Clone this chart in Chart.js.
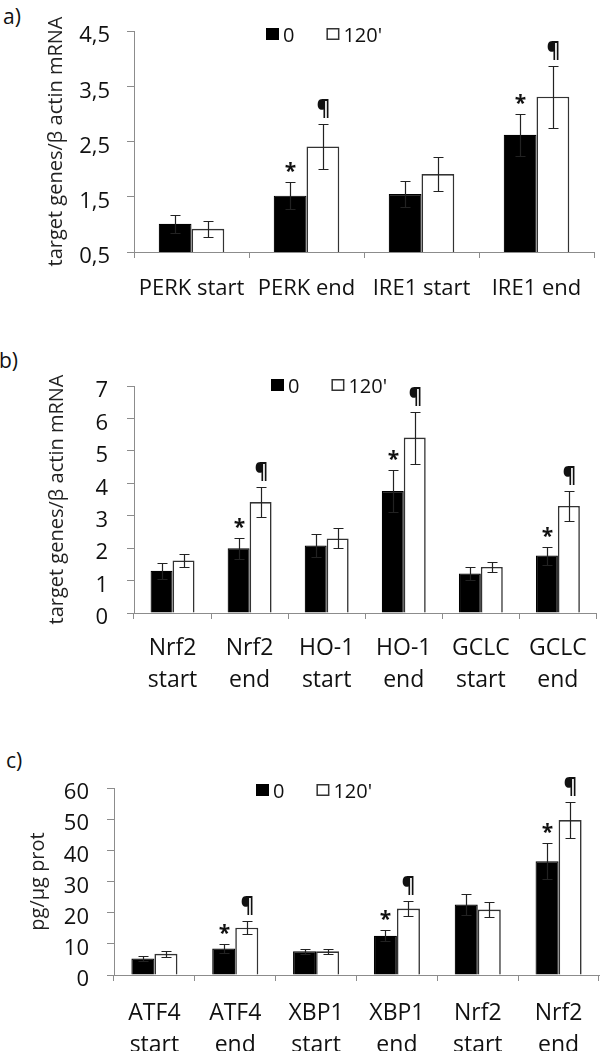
<!DOCTYPE html>
<html>
<head>
<title>UPR / Nrf2 markers</title>
<script src="https://cdn.jsdelivr.net/npm/chart.js"></script>
<style>
  body { margin: 0; background: #fff; }
  .panel { position: absolute; left: 0; }
  .tag { position: absolute; font: 21px "Open Sans"; line-height: 24px; color: #111; }
</style>
</head>
<body>
<div class="tag" style="left:3px;top:4px">a)</div>
<div class="tag" style="left:-1px;top:348px">b)</div>
<div class="tag" style="left:6px;top:748px">c)</div>
<div class="panel" style="top:0"><canvas id="chartA" width="600" height="340"></canvas></div>
<div class="panel" style="top:340px"><canvas id="chartB" width="600" height="360"></canvas></div>
<div class="panel" style="top:700px"><canvas id="chartC" width="600" height="351"></canvas></div>

<script>
// series names
var seriesNames = ['0', "120'"];

// panel a
var catsA = ['PERK start', 'PERK end', 'IRE1 start', 'IRE1 end'];
var a0 = [1.01, 1.52, 1.55, 2.62];
var a0err = [0.16, 0.25, 0.23, 0.38];
var a120 = [0.92, 2.41, 1.91, 3.31];
var a120err = [0.14, 0.41, 0.31, 0.56];
var a0marks = ['', '*', '', '*'];
var a120marks = ['', '\u00B6', '', '\u00B6'];
var ticksA = [0.5, 1.5, 2.5, 3.5, 4.5];
var tickLabelsA = ['0,5', '1,5', '2,5', '3,5', '4,5'];

// panel b
var catsB = [['Nrf2', 'start'], ['Nrf2', 'end'], ['HO-1', 'start'], ['HO-1', 'end'], ['GCLC', 'start'], ['GCLC', 'end']];
var b0 = [1.3, 2.0, 2.08, 3.76, 1.22, 1.77];
var b0err = [0.25, 0.32, 0.36, 0.65, 0.19, 0.28];
var b120 = [1.62, 3.42, 2.3, 5.41, 1.42, 3.3];
var b120err = [0.21, 0.47, 0.31, 0.8, 0.16, 0.46];
var b0marks = ['', '*', '', '*', '', '*'];
var b120marks = ['', '\u00B6', '', '\u00B6', '', '\u00B6'];
var ticksB = [0, 1, 2, 3, 4, 5, 6, 7];
var tickLabelsB = ['0', '1', '2', '3', '4', '5', '6', '7'];

// panel c
var catsC = [['ATF4', 'start'], ['ATF4', 'end'], ['XBP1', 'start'], ['XBP1', 'end'], ['Nrf2', 'start'], ['Nrf2', 'end']];
var c0 = [5.3, 8.5, 7.6, 12.6, 22.6, 36.5];
var c0err = [0.7, 1.3, 0.9, 1.8, 3.3, 5.7];
var c120 = [6.8, 15.2, 7.6, 21.3, 21.0, 49.7];
var c120err = [0.9, 2.1, 0.9, 2.5, 2.4, 5.9];
var c0marks = ['', '*', '', '*', '', '*'];
var c120marks = ['', '\u00B6', '', '\u00B6', '', '\u00B6'];
var ticksC = [0, 10, 20, 30, 40, 50, 60];
var tickLabelsC = ['0', '10', '20', '30', '40', '50', '60'];

var AXIS = '#8c8c8c';
var TEXT = '#111';

// error bars + significance marks, placed from the bar elements and y scale
var errorBars = {
  id: 'errorBars',
  afterDatasetsDraw: function (chart) {
    var ctx = chart.ctx, y = chart.scales.y;
    ctx.save();
    chart.data.datasets.forEach(function (ds, i) {
      var meta = chart.getDatasetMeta(i);
      meta.data.forEach(function (bar, j) {
        var v = ds.data[j], e = ds.errors[j];
        var top = Math.round(y.getPixelForValue(v + e)) + 0.5;
        var bot = Math.round(y.getPixelForValue(v - e)) + 0.5;
        var x = Math.round(bar.x) + 0.5;
        ctx.strokeStyle = '#222';
        ctx.lineWidth = 1.2;
        ctx.beginPath();
        ctx.moveTo(x, top); ctx.lineTo(x, bot);
        ctx.moveTo(x - 5, top); ctx.lineTo(x + 5, top);
        ctx.moveTo(x - 5, bot); ctx.lineTo(x + 5, bot);
        ctx.stroke();
        var m = ds.marks[j];
        if (m) {
          ctx.fillStyle = TEXT;
          ctx.textAlign = 'center';
          ctx.textBaseline = 'alphabetic';
          ctx.font = 'bold 21px "Open Sans"';
          ctx.fillText(m, x, m === '*' ? top - 5 : top - 10);
        }
      });
    });
    ctx.restore();
  }
};

// small box legend inside the plot
var boxLegend = {
  id: 'boxLegend',
  afterDraw: function (chart, args, opts) {
    var ctx = chart.ctx, x = opts.x, y = opts.y;
    ctx.save();
    ctx.font = '20px "Open Sans"';
    ctx.textBaseline = 'middle';
    ctx.textAlign = 'left';
    chart.data.datasets.forEach(function (ds) {
      ctx.fillStyle = ds.backgroundColor;
      ctx.fillRect(x, y, 13, 12);
      ctx.strokeStyle = ds.borderColor;
      ctx.lineWidth = 1.5;
      ctx.strokeRect(x + 0.75, y + 0.75, 11.5, 10.5);
      ctx.fillStyle = TEXT;
      ctx.fillText(ds.label, x + 17, y + 8);
      x += 17 + ctx.measureText(ds.label).width + 32;
    });
    ctx.restore();
  }
};

function makeChart(id, cats, s0, e0, m0, s120, e120, m120, ticks, tickLabels, yTitle, lay) {
  return new Chart(document.getElementById(id), {
    type: 'bar',
    data: {
      labels: cats,
      datasets: [
        { label: seriesNames[0], data: s0, errors: e0, marks: m0,
          backgroundColor: '#000', borderColor: '#000', borderWidth: 1.2 },
        { label: seriesNames[1], data: s120, errors: e120, marks: m120,
          backgroundColor: '#fff', borderColor: '#333', borderWidth: 1.6 }
      ]
    },
    options: {
      responsive: false,
      animation: false,
      layout: { padding: { top: lay.top, right: lay.right, left: 0, bottom: 0 } },
      datasets: { bar: { categoryPercentage: 0.57, barPercentage: 1.0 } },
      plugins: {
        legend: { display: false },
        tooltip: { enabled: false },
        boxLegend: { x: lay.legX, y: lay.legY }
      },
      scales: {
        x: {
          grid: { display: true, drawOnChartArea: false, color: AXIS, tickLength: 6, offset: true },
          border: { display: true, color: AXIS, width: 1 },
          ticks: { color: TEXT, padding: lay.xPad, maxRotation: 0, autoSkip: false,
                   font: { family: 'Open Sans', size: lay.xFont, lineHeight: 1.4 } },
          afterFit: function (s) { s.height = lay.xHeight; }
        },
        y: {
          min: ticks[0],
          max: ticks[ticks.length - 1],
          grid: { display: true, drawOnChartArea: false, color: AXIS, tickLength: 7 },
          border: { display: true, color: AXIS, width: 1 },
          afterBuildTicks: function (s) { s.ticks = ticks.map(function (v) { return { value: v }; }); },
          ticks: {
            color: TEXT, padding: lay.yPad, labelOffset: 5,
            font: { family: 'Open Sans', size: lay.yFont },
            callback: function (v, i) { return tickLabels[i]; }
          },
          title: { display: true, text: yTitle, color: '#222',
                   font: { family: 'Open Sans', size: 20 }, padding: { top: lay.titlePad, bottom: 0 } },
          afterFit: function (s) { s.width = lay.axisX; }
        }
      }
    },
    plugins: [errorBars, boxLegend]
  });
}

makeChart('chartA', catsA, a0, a0err, a0marks, a120, a120err, a120marks, ticksA, tickLabelsA,
  'target genes/\u03B2 actin mRNA',
  { top: 31, right: 6, xHeight: 88, axisX: 134, xPad: 15, yPad: 17, xFont: 22, yFont: 22,
    titlePad: 44, legX: 266, legY: 28 });

makeChart('chartB', catsB, b0, b0err, b0marks, b120, b120err, b120marks, ticksB, tickLabelsB,
  'target genes/\u03B2 actin mRNA',
  { top: 46, right: 3, xHeight: 87, axisX: 134, xPad: 13, yPad: 19, xFont: 23, yFont: 22,
    titlePad: 45, legX: 271, legY: 39 });

makeChart('chartC', catsC, c0, c0err, c0marks, c120, c120err, c120marks, ticksC, tickLabelsC,
  'pg/\u00B5g prot',
  { top: 88, right: 1, xHeight: 76, axisX: 114, xPad: 16, yPad: 18, xFont: 23, yFont: 22,
    titlePad: 26, legX: 256, legY: 84 });
</script>
</body>
</html>
